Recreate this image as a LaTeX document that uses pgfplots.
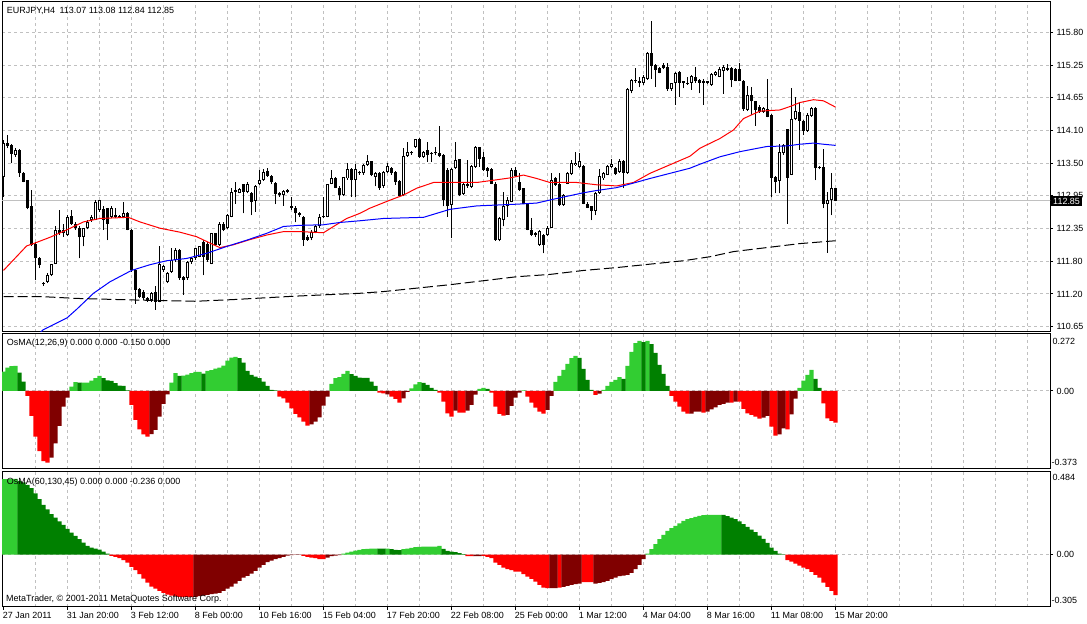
\documentclass[border=0pt]{standalone}
\usepackage{pgfplots}
\pgfplotsset{compat=1.18}
\usepackage{pgfplotstable}
\usepackage{fontspec}
\setmainfont{Liberation Sans}
\definecolor{gridgray}{RGB}{192,192,192}
\definecolor{lgreen}{RGB}{50,205,50}
\definecolor{dgreen}{RGB}{0,128,0}
\definecolor{dred}{RGB}{128,0,0}
\newcommand{\mtfont}{\fontsize{9}{10}\selectfont}

\pgfplotstableread{
i o h l c
0 113.27 113.91 112.92 113.86
3 113.65 113.77 113.62 113.74
11 111.43 111.58 111.41 111.55
12 111.55 111.75 111.53 111.74
13 111.75 112.40 111.74 112.34
15 112.28 112.45 112.22 112.34
16 112.25 112.60 112.23 112.57
20 112.22 112.38 112.05 112.37
21 112.37 112.51 112.35 112.48
22 112.51 112.60 112.48 112.57
23 112.52 112.86 112.51 112.83
24 112.69 112.87 112.66 112.86
27 112.57 112.75 112.54 112.72
30 112.57 112.83 112.54 112.63
37 111.11 111.26 111.08 111.23
39 111.08 112.05 111.07 111.75
40 111.64 111.72 111.61 111.70
41 111.43 111.61 111.41 111.58
42 111.61 112.02 111.59 111.81
43 111.81 112.02 111.78 111.99
46 111.49 111.80 111.47 111.78
47 111.78 111.87 111.75 111.84
48 111.84 112.03 111.82 112.02
49 111.87 112.06 111.86 112.05
52 111.75 112.29 111.74 112.28
54 112.08 112.47 112.06 112.45
56 112.37 112.62 112.35 112.60
57 112.57 113.08 112.56 113.01
58 113.01 113.18 112.80 113.04
59 112.99 113.07 112.98 113.05
61 113.00 113.17 112.98 113.14
63 112.85 113.13 112.66 113.11
64 113.14 113.39 113.13 113.21
65 113.21 113.41 113.20 113.35
70 112.95 113.04 112.76 113.02
77 112.19 112.34 112.16 112.31
78 112.31 112.43 112.28 112.41
79 112.41 112.61 112.38 112.56
80 112.56 112.92 112.54 112.59
81 112.57 113.15 112.56 113.14
82 113.15 113.39 113.14 113.24
85 112.95 113.27 112.93 113.26
86 113.24 113.51 113.22 113.41
88 113.21 113.50 112.92 113.40
89 113.33 113.38 113.31 113.36
90 113.33 113.49 113.31 113.48
91 113.48 113.65 113.46 113.55
93 113.27 113.35 113.10 113.33
95 113.10 113.38 113.08 113.36
96 113.35 113.51 113.33 113.46
100 112.95 113.77 112.93 113.64
101 113.63 113.88 113.62 113.71
102 113.68 113.73 113.66 113.71
103 113.80 113.94 113.78 113.93
105 113.62 113.73 113.60 113.71
112 112.78 113.42 112.19 113.40
113 113.42 113.88 113.40 113.56
115 112.97 113.17 112.95 113.15
117 113.09 113.48 113.07 113.46
118 113.45 113.81 113.43 113.80
124 112.16 112.56 112.14 112.54
125 112.52 113.01 112.40 112.75
126 112.75 112.92 112.57 112.86
127 112.83 113.42 112.82 113.39
134 112.08 112.34 112.06 112.32
136 112.25 112.40 112.23 112.38
137 112.38 113.33 112.37 113.21
140 112.78 112.97 112.76 112.95
141 113.15 113.35 113.14 113.33
142 113.32 113.56 113.30 113.51
143 113.48 113.71 113.46 113.52
144 113.45 113.68 113.43 113.55
148 112.67 113.01 112.60 112.99
149 112.99 113.40 112.97 113.28
150 113.24 113.35 113.22 113.33
151 113.31 113.48 113.30 113.46
152 113.45 113.59 113.43 113.49
154 113.36 113.59 113.34 113.55
156 113.34 114.82 113.32 114.80
157 114.78 114.98 114.73 114.96
158 114.94 115.17 114.92 114.96
159 114.92 115.01 114.84 114.95
160 114.92 115.05 114.88 115.01
161 114.99 115.46 114.97 115.44
167 114.80 114.92 114.78 114.91
168 114.91 115.11 114.53 115.09
172 114.92 115.05 114.79 115.04
177 114.88 115.09 114.86 115.07
178 115.05 115.12 115.03 115.10
179 115.02 115.20 115.01 115.15
180 115.12 115.22 114.72 115.20
181 115.14 115.25 115.12 115.17
186 114.44 114.86 114.42 114.70
190 114.41 114.49 114.39 114.47
194 113.20 113.84 112.98 113.71
195 113.68 113.84 113.66 113.83
197 113.31 114.82 113.30 114.28
198 114.28 114.66 114.26 114.43
201 114.08 114.38 114.06 114.36
202 114.34 114.49 114.32 114.47
206 112.79 113.01 111.94 112.86
207 112.86 113.33 112.60 113.07
}\bull

\pgfplotstableread{
i o h l c
1 113.87 114.00 113.77 113.81
2 113.83 113.84 113.51 113.67
4 113.74 113.75 113.27 113.33
5 113.33 113.36 113.17 113.18
6 113.21 113.22 112.70 112.72
7 112.75 113.04 112.05 112.08
8 112.10 112.12 111.46 111.84
9 111.85 111.87 111.67 111.72
10 111.41 111.43 111.36 111.39
14 112.34 112.68 112.25 112.28
17 112.58 112.68 112.43 112.45
18 112.45 112.48 112.34 112.37
19 112.37 112.40 111.84 112.21
25 112.70 112.75 112.34 112.51
26 112.72 112.73 112.16 112.45
28 112.60 112.72 112.54 112.57
29 112.58 112.60 112.54 112.56
31 112.63 112.66 112.33 112.34
32 112.34 112.35 111.61 111.64
33 111.64 111.65 111.05 111.29
34 111.30 111.32 111.14 111.17
35 111.26 111.29 111.11 111.14
36 111.15 111.17 111.08 111.11
38 111.26 111.35 110.94 111.08
44 111.99 112.00 111.47 111.49
45 111.52 111.53 111.20 111.46
50 112.13 112.16 111.55 111.87
51 112.10 112.13 111.78 111.81
53 112.28 112.29 112.06 112.08
55 112.45 112.47 112.32 112.34
60 113.14 113.15 112.63 113.01
62 112.99 113.01 112.60 112.83
66 113.37 113.42 113.27 113.29
67 113.28 113.30 113.14 113.17
68 113.16 113.17 112.79 112.97
69 112.99 113.01 112.92 112.95
71 113.04 113.06 112.98 113.00
72 112.75 112.92 112.69 112.72
73 112.73 112.75 112.47 112.63
74 112.64 112.66 112.57 112.60
75 112.57 112.58 112.06 112.17
76 112.22 112.25 112.15 112.17
83 113.24 113.26 113.07 113.08
84 113.08 113.10 112.86 112.95
87 113.41 113.42 112.92 113.21
92 113.54 113.55 113.28 113.30
94 113.33 113.35 113.04 113.07
97 113.42 113.45 113.31 113.33
98 113.36 113.38 113.13 113.18
99 113.20 113.21 112.92 112.93
104 113.93 113.95 113.60 113.62
106 113.74 113.88 113.53 113.65
107 113.68 113.71 113.53 113.67
108 113.69 113.80 113.65 113.68
109 113.69 114.16 113.61 113.63
110 113.65 113.67 112.75 112.86
111 113.39 113.42 112.57 112.75
114 113.58 113.59 112.93 112.95
116 113.15 113.56 113.08 113.10
119 113.79 113.80 113.45 113.59
120 113.62 113.71 113.37 113.39
121 113.42 113.44 113.27 113.38
122 113.41 113.42 113.14 113.15
123 113.15 113.17 112.15 112.17
128 113.39 113.45 113.27 113.29
129 113.17 113.33 113.02 113.04
130 113.07 113.08 112.79 112.80
131 112.80 112.81 112.33 112.34
132 112.34 112.54 112.23 112.25
133 112.28 112.30 112.22 112.25
135 112.25 112.27 111.93 112.08
138 113.24 113.26 113.11 113.13
139 113.15 113.33 112.76 112.78
145 113.46 113.48 112.79 112.80
146 112.80 112.82 112.72 112.73
147 112.75 112.76 112.51 112.67
153 113.43 113.45 113.30 113.32
155 113.55 113.56 113.07 113.34
162 115.44 115.99 114.99 115.21
163 115.23 115.25 114.85 115.14
164 115.17 115.19 115.08 115.09
165 115.23 115.27 115.15 115.17
166 115.20 115.26 114.78 114.80
169 115.11 115.13 114.67 114.92
170 114.94 114.95 114.82 114.91
171 114.92 115.02 114.88 114.90
173 115.02 115.20 114.92 114.94
174 114.96 114.98 114.73 114.92
175 114.94 114.99 114.53 114.91
176 114.94 114.95 114.89 114.91
182 115.17 115.19 114.84 114.96
183 115.15 115.17 114.94 114.95
184 115.16 115.26 114.94 114.95
185 114.95 114.96 114.43 114.45
187 114.70 114.84 114.35 114.59
188 114.59 114.60 114.16 114.44
189 114.50 114.52 114.39 114.41
191 114.45 114.99 114.31 114.32
192 114.35 114.37 112.91 113.25
193 113.27 113.29 112.98 113.18
196 114.11 114.11 112.45 113.25
199 114.41 114.58 113.74 114.25
200 114.25 114.27 114.00 114.08
203 114.47 114.49 113.21 113.42
204 113.45 113.46 113.40 113.42
205 113.45 113.75 112.72 112.79
208 113.07 113.08 112.84 112.85
}\bear

\pgfplotstableread{
i v c
0 0.0925 1
1 0.1117 1
2 0.1180 1
3 0.1196 1
4 0.0877 2
5 0.0447 2
6 -0.0239 3
7 -0.1196 3
8 -0.2185 3
9 -0.2871 3
10 -0.3350 3
11 -0.3430 3
12 -0.3190 4
13 -0.2504 4
14 -0.1675 4
15 -0.0750 4
16 -0.0319 4
17 0.0207 1
18 0.0415 1
19 0.0399 2
20 0.0399 1
21 0.0399 1
22 0.0494 1
23 0.0606 1
24 0.0718 1
25 0.0606 2
26 0.0510 2
27 0.0479 2
28 0.0367 2
29 0.0255 2
30 0.0239 2
31 0.0032 2
32 -0.0670 3
33 -0.1388 3
34 -0.1834 3
35 -0.2074 3
36 -0.2185 3
37 -0.2058 4
38 -0.1866 4
39 -0.1228 4
40 -0.0622 4
41 -0.0160 4
42 0.0399 1
43 0.0845 1
44 0.0718 2
45 0.0734 1
46 0.0782 1
47 0.0845 1
48 0.0909 1
49 0.0909 1
50 0.0829 2
51 0.0957 1
52 0.0989 1
53 0.1069 1
54 0.1117 1
55 0.1212 1
56 0.1451 1
57 0.1595 1
58 0.1627 1
59 0.1563 2
60 0.1356 2
61 0.0957 2
62 0.0766 2
63 0.0686 2
64 0.0606 2
65 0.0447 2
66 0.0239 2
67 0.0048 2
68 0.0032 2
69 -0.0271 3
70 -0.0351 3
71 -0.0558 3
72 -0.0829 3
73 -0.1100 3
74 -0.1260 3
75 -0.1467 3
76 -0.1659 3
77 -0.1595 4
78 -0.1467 4
79 -0.1260 4
80 -0.0702 4
81 -0.0271 4
82 0.0335 1
83 0.0606 1
84 0.0654 1
85 0.0813 1
86 0.0957 1
87 0.0798 2
88 0.0718 2
89 0.0638 2
90 0.0622 2
91 0.0622 2
92 0.0447 2
93 0.0239 2
94 -0.0080 3
95 -0.0112 3
96 -0.0160 4
97 -0.0271 3
98 -0.0383 3
99 -0.0558 3
100 -0.0351 4
101 -0.0048 4
102 0.0128 1
103 0.0319 1
104 0.0415 1
105 0.0383 2
106 0.0287 2
107 0.0144 2
108 0.0048 2
109 -0.0080 3
110 -0.0510 3
111 -0.1069 3
112 -0.1228 3
113 -0.0941 4
114 -0.1037 3
115 -0.1037 3
116 -0.0941 4
117 -0.0670 4
118 -0.0175 4
119 0.0096 1
120 0.0144 1
121 0.0096 2
122 -0.0080 3
123 -0.0750 3
124 -0.1100 3
125 -0.1180 3
126 -0.1148 4
127 -0.0718 4
128 -0.0319 4
129 -0.0080 4
130 0.0032 1
131 -0.0271 3
132 -0.0558 3
133 -0.0798 3
134 -0.0989 3
135 -0.1085 3
136 -0.0909 4
137 -0.0239 4
138 0.0431 1
139 0.0718 1
140 0.1005 1
141 0.1292 1
142 0.1563 1
143 0.1675 1
144 0.1579 2
145 0.1053 2
146 0.0526 2
147 0.0048 2
148 -0.0191 3
149 -0.0128 4
150 0.0048 1
151 0.0239 1
152 0.0431 1
153 0.0526 1
154 0.0654 1
155 0.0574 2
156 0.1196 1
157 0.1866 1
158 0.2281 1
159 0.2393 1
160 0.2329 2
161 0.2393 1
162 0.2233 2
163 0.1818 2
164 0.1244 2
165 0.0813 2
166 0.0239 2
167 -0.0239 3
168 -0.0510 3
169 -0.0750 3
170 -0.0989 3
171 -0.1085 3
172 -0.1085 4
173 -0.0989 4
174 -0.0989 4
175 -0.1037 3
176 -0.0989 4
177 -0.0877 4
178 -0.0782 4
179 -0.0670 4
180 -0.0622 4
181 -0.0558 4
182 -0.0558 3
183 -0.0510 4
184 -0.0510 3
185 -0.0861 3
186 -0.1069 3
187 -0.1148 3
188 -0.1228 3
189 -0.1324 3
190 -0.1276 4
191 -0.1196 4
192 -0.1707 3
193 -0.2137 3
194 -0.2074 4
195 -0.1786 4
196 -0.1834 3
197 -0.1117 4
198 -0.0367 4
199 0.0144 1
200 0.0494 1
201 0.0766 1
202 0.1005 1
203 0.0574 2
204 0.0144 2
205 -0.0590 3
206 -0.1308 3
207 -0.1436 3
208 -0.1515 3
}\osmaA

\pgfplotstableread{
i v c
0 0.4405 1
1 0.4405 1
2 0.4424 1
3 0.4424 1
4 0.4307 2
5 0.4210 2
6 0.4073 2
7 0.3878 2
8 0.3567 2
9 0.3235 2
10 0.2904 2
11 0.2631 2
12 0.2358 2
13 0.2163 2
14 0.1930 2
15 0.1735 2
16 0.1501 2
17 0.1286 2
18 0.1091 2
19 0.0897 2
20 0.0702 2
21 0.0507 2
22 0.0409 2
23 0.0351 2
24 0.0292 2
25 0.0175 2
26 0.0058 2
27 -0.0078 3
28 -0.0136 3
29 -0.0214 3
30 -0.0331 3
31 -0.0468 3
32 -0.0721 3
33 -0.0916 3
34 -0.1150 3
35 -0.1403 3
36 -0.1637 3
37 -0.1871 3
38 -0.1988 3
39 -0.2124 3
40 -0.2241 3
41 -0.2339 3
42 -0.2397 3
43 -0.2436 3
44 -0.2475 3
45 -0.2495 3
46 -0.2495 3
47 -0.2495 3
48 -0.2475 4
49 -0.2436 4
50 -0.2397 4
51 -0.2358 4
52 -0.2319 4
53 -0.2280 4
54 -0.2241 4
55 -0.2124 4
56 -0.1988 4
57 -0.1871 4
58 -0.1696 4
59 -0.1540 4
60 -0.1345 4
61 -0.1247 4
62 -0.1111 4
63 -0.0955 4
64 -0.0760 4
65 -0.0604 4
66 -0.0448 4
67 -0.0351 4
68 -0.0273 4
69 -0.0214 4
70 -0.0136 4
71 -0.0058 4
72 -0.0039 4
73 -0.0019 4
74 -0.0019 4
75 -0.0078 3
76 -0.0136 3
77 -0.0175 3
78 -0.0214 3
79 -0.0273 3
80 -0.0273 3
81 -0.0175 4
82 -0.0097 4
83 -0.0058 4
84 -0.0039 4
85 0.0058 1
86 0.0117 1
87 0.0175 1
88 0.0234 1
89 0.0273 1
90 0.0312 1
91 0.0331 1
92 0.0351 1
93 0.0351 1
94 0.0351 2
95 0.0351 2
96 0.0341 1
97 0.0312 2
98 0.0273 2
99 0.0253 2
100 0.0312 1
101 0.0351 1
102 0.0390 1
103 0.0429 1
104 0.0448 1
105 0.0468 1
106 0.0468 1
107 0.0468 1
108 0.0468 1
109 0.0507 1
110 0.0331 2
111 0.0214 2
112 0.0175 2
113 0.0136 2
114 0.0078 2
115 0.0019 2
116 -0.0097 3
117 -0.0097 3
118 -0.0097 4
119 -0.0097 4
120 -0.0078 3
121 -0.0136 3
122 -0.0214 3
123 -0.0468 3
124 -0.0604 3
125 -0.0760 3
126 -0.0858 3
127 -0.0916 3
128 -0.0994 3
129 -0.0994 3
130 -0.1150 3
131 -0.1286 3
132 -0.1423 3
133 -0.1579 3
134 -0.1774 3
135 -0.1930 3
136 -0.1969 3
137 -0.1969 4
138 -0.1969 4
139 -0.1930 3
140 -0.1891 4
141 -0.1832 4
142 -0.1774 4
143 -0.1735 4
144 -0.1696 4
145 -0.1618 3
146 -0.1618 3
147 -0.1618 3
148 -0.1696 4
149 -0.1657 4
150 -0.1618 4
151 -0.1540 4
152 -0.1442 4
153 -0.1345 4
154 -0.1267 4
155 -0.1228 4
156 -0.1189 4
157 -0.1072 4
158 -0.0858 4
159 -0.0604 4
160 -0.0273 4
161 0.0058 1
162 0.0312 1
163 0.0604 1
164 0.0897 1
165 0.1150 1
166 0.1384 1
167 0.1540 1
168 0.1676 1
169 0.1813 1
170 0.1969 1
171 0.2066 1
172 0.2124 1
173 0.2202 1
174 0.2261 1
175 0.2300 1
176 0.2319 1
177 0.2319 1
178 0.2319 1
179 0.2319 1
180 0.2319 2
181 0.2241 2
182 0.2163 2
183 0.2066 2
184 0.1930 2
185 0.1774 2
186 0.1618 2
187 0.1462 2
188 0.1306 2
189 0.1111 2
190 0.0916 2
191 0.0682 2
192 0.0409 2
193 0.0214 2
194 0.0058 2
195 0.0010 2
196 -0.0331 3
197 -0.0409 3
198 -0.0526 3
199 -0.0643 3
200 -0.0760 3
201 -0.0858 3
202 -0.1013 3
203 -0.1189 3
204 -0.1345 3
205 -0.1637 3
206 -0.1891 3
207 -0.2124 3
208 -0.2378 3
}\osmaB

\pgfplotsset{
  mtaxis/.style={
    scale only axis, width=1048bp, xmin=-0.375, xmax=261.625,
    anchor=south west,
    axis line style={black, line width=1bp},
    clip mode=individual,
    ymajorgrids=true,
    grid style={gridgray, dash pattern=on 3bp off 3bp, line width=1bp},
    major grid style={gridgray, dash pattern=on 3bp off 3bp, line width=1bp},
    minor grid style={gridgray, dash pattern=on 3bp off 3bp, line width=1bp},
    ytick pos=right, tick align=outside, major tick length=3bp,
    ytick style={black, line width=1bp},
    ticklabel style={font=\mtfont},
    yticklabel style={anchor=west},
    /pgf/number format/assume math mode=true,
  },
  histo/.style={ybar, bar width=4.2bp, bar shift=0pt, draw=none, fill=#1},
  wick/.style={only marks, mark=*, mark size=0pt, mark options={draw=none, fill=none},
    error bars/.cd, y dir=plus, y explicit,
    error mark=none, error bar style={draw=black, line width=1bp}},
  body/.style={only marks, mark=*, mark size=0pt, mark options={draw=none, fill=none},
    error bars/.cd, y dir=plus, y explicit,
    error mark=none, error bar style={#1}},
}

\begin{document}
\begin{tikzpicture}
\path[use as bounding box] (0,0) rectangle (1087bp,624bp);

% ---------------- main price panel ----------------
\begin{axis}[mtaxis, at={(2bp,292bp)}, height=330bp,
  ymin=110.552, ymax=116.331,
  xtick={8,16,...,256}, xticklabels={}, xmajorgrids=true, xtick style={draw=none},
  ytick={115.80,115.227,114.655,114.082,113.509,112.936,112.364,111.791,111.218,110.645},
  yticklabels={115.80,115.25,114.65,114.10,113.50,112.95,112.35,111.80,111.20,110.65}]
\addplot[gridgray, line width=1bp] coordinates {(-1,112.85) (263,112.85)};
% wicks
\addplot[wick] table[x=i, y=l, y error expr=\thisrow{h}-\thisrow{l}] {\bull};
\addplot[wick] table[x=i, y=l, y error expr=\thisrow{h}-\thisrow{l}] {\bear};
% bodies
\addplot[body={draw=black, line width=3bp}] table[x=i, y=c, y error expr={max(\thisrow{o}-\thisrow{c},0.018)}] {\bear};
\addplot[body={draw=black, line width=3bp}] table[x=i, y=o, y error expr={max(\thisrow{c}-\thisrow{o},0.018)}] {\bull};
\addplot[body={draw=white, line width=1bp}] table[x=i, y expr=\thisrow{o}+0.0175, y error expr={max(\thisrow{c}-\thisrow{o}-0.035,0)}] {\bull};
% moving averages
\addplot[red, line width=1bp] coordinates {
(0,111.63) (5.8,112.06) (7.5,112.10) (11.6,112.21) (15.8,112.34) (20,112.48) (24.1,112.54)
(31.2,112.56) (34.1,112.48) (39.1,112.37) (44.1,112.30) (48.3,112.22) (52.5,112.08) (54.1,112.03)
(57.5,112.08) (61.6,112.17) (65.8,112.25) (70,112.31) (74.1,112.31) (80,112.29) (82.5,112.40)
(85.8,112.54) (89.1,112.63) (91.6,112.72) (96.6,112.86) (100,112.95) (103.3,113.07) (107.5,113.17)
(111.6,113.17) (118.3,113.17) (122.5,113.21) (126.6,113.25) (130,113.30) (133.3,113.24) (136.6,113.17)
(143.3,113.17) (148.3,113.13) (153.3,113.11) (157.5,113.17) (161.6,113.33) (166.6,113.48) (171.6,113.63)
(174.1,113.77) (179.1,113.94) (182.5,114.09) (185,114.29) (189.1,114.42) (194.1,114.44) (196.6,114.50)
(199.1,114.57) (202.5,114.62) (205,114.60) (208,114.49)};
\addplot[blue, line width=1bp] coordinates {
(8.5,110.50) (9.9,110.59) (15.9,110.80) (18.3,110.95) (22.5,111.23) (26.6,111.43) (32,111.63) (36.6,111.73)
(40.8,111.80) (45.8,111.84) (50.8,111.93) (55.8,112.05) (60.8,112.16) (65.8,112.28) (70,112.40)
(74.1,112.42) (80,112.43) (84.1,112.47) (89.1,112.50) (95,112.54) (105,112.56) (111.6,112.70)
(118.3,112.76) (128.3,112.79) (133.3,112.81) (138.3,112.89) (145,112.99) (148.3,113.03) (153.3,113.08)
(157.5,113.16) (161.6,113.24) (166.6,113.33) (171.6,113.42) (174.1,113.49) (179.1,113.62) (184.1,113.71)
(190.8,113.80) (195.8,113.81) (199.1,113.84) (202.5,113.86) (205,113.84) (208,113.82)};
\addplot[black, line width=1bp, dash pattern=on 10bp off 4bp] coordinates {
(0,111.17) (10,111.17) (18.3,111.14) (34,111.11) (48,111.09) (57.5,111.12) (73,111.18) (82.5,111.21)
(89.1,111.23) (95,111.26) (103.3,111.32) (111.6,111.38) (120,111.45) (128.3,111.52) (136.6,111.56)
(145,111.63) (153.3,111.68) (161.6,111.74) (170,111.80) (176.6,111.87) (182.5,111.96) (190.8,112.03)
(199.1,112.10) (208,112.15)};
\node[anchor=west, inner sep=0pt, font=\mtfont] at (rel axis cs:0,1) [xshift=4.7bp, yshift=-9bp]
  {EURJPY,H4\enspace 113.07 113.08 112.84 112.85};
\end{axis}

% ---------------- OsMA(12,26,9) ----------------
\begin{axis}[mtaxis, at={(2bp,155bp)}, height=135bp,
  ymin=-0.373, ymax=0.272,
  xtick={8,16,...,256}, xticklabels={}, xmajorgrids=true, xtick style={draw=none},
  ytick={0}, yticklabels={0.00}]
\addplot[histo=lgreen, restrict expr to domain={\thisrow{c}}{1:1}] table[x=i, y=v] {\osmaA};
\addplot[histo=dgreen, restrict expr to domain={\thisrow{c}}{2:2}] table[x=i, y=v] {\osmaA};
\addplot[histo=red, restrict expr to domain={\thisrow{c}}{3:3}] table[x=i, y=v] {\osmaA};
\addplot[histo=dred, restrict expr to domain={\thisrow{c}}{4:4}] table[x=i, y=v] {\osmaA};
\node[anchor=west, inner sep=0pt, font=\mtfont] at (rel axis cs:0,1) [xshift=4.7bp, yshift=-9bp]
  {OsMA(12,26,9) 0.000 0.000 -0.150 0.000};
\node[anchor=west, inner sep=0pt, font=\mtfont] at (rel axis cs:1,1) [xshift=2.5bp, yshift=-7bp] {0.272};
\node[anchor=west, inner sep=0pt, font=\mtfont] at (rel axis cs:1,0) [xshift=1.5bp, yshift=7bp] {-0.373};
\end{axis}

% ---------------- OsMA(60,130,45) ----------------
\begin{axis}[mtaxis, at={(2bp,17.3bp)}, height=135bp,
  ymin=-0.305, ymax=0.484,
  xtick={0,16,...,208}, xtick pos=bottom,
  xticklabels={27 Jan 2011,31 Jan 20:00,3 Feb 12:00,8 Feb 00:00,10 Feb 16:00,15 Feb 04:00,17 Feb 20:00,22 Feb 08:00,25 Feb 00:00,1 Mar 12:00,4 Mar 04:00,8 Mar 16:00,11 Mar 08:00,15 Mar 20:00},
  xtick style={black, line width=1bp},
  xticklabel style={anchor=west, inner sep=0pt, xshift=-0.8bp, yshift=-6bp},
  minor xtick={8,16,...,256}, xminorgrids=true, xmajorgrids=false, minor tick length=0pt,
  ytick={0}, yticklabels={0.00}]
\addplot[histo=lgreen, restrict expr to domain={\thisrow{c}}{1:1}] table[x=i, y=v] {\osmaB};
\addplot[histo=dgreen, restrict expr to domain={\thisrow{c}}{2:2}] table[x=i, y=v] {\osmaB};
\addplot[histo=red, restrict expr to domain={\thisrow{c}}{3:3}] table[x=i, y=v] {\osmaB};
\addplot[histo=dred, restrict expr to domain={\thisrow{c}}{4:4}] table[x=i, y=v] {\osmaB};
\node[anchor=west, inner sep=0pt, font=\mtfont] at (rel axis cs:0,1) [xshift=4.7bp, yshift=-10bp]
  {OsMA(60,130,45) 0.000 0.000 -0.236 0.000};
\node[anchor=west, inner sep=0pt, font=\mtfont] at (rel axis cs:0,0) [xshift=4bp, yshift=8bp]
  {MetaTrader, © 2001-2011 MetaQuotes Software Corp.};
\node[anchor=west, inner sep=0pt, font=\mtfont] at (rel axis cs:1,1) [xshift=2.5bp, yshift=-6bp] {0.484};
\node[anchor=west, inner sep=0pt, font=\mtfont] at (rel axis cs:1,0) [xshift=1.5bp, yshift=6bp] {-0.305};
\end{axis}

% current price label
\node[fill=black, text=white, anchor=west, inner xsep=2bp, inner ysep=1.6bp,
  text height=6.6bp, text depth=0bp, font=\mtfont] at (1051bp,423bp) {112.85};
\end{tikzpicture}
\end{document}
